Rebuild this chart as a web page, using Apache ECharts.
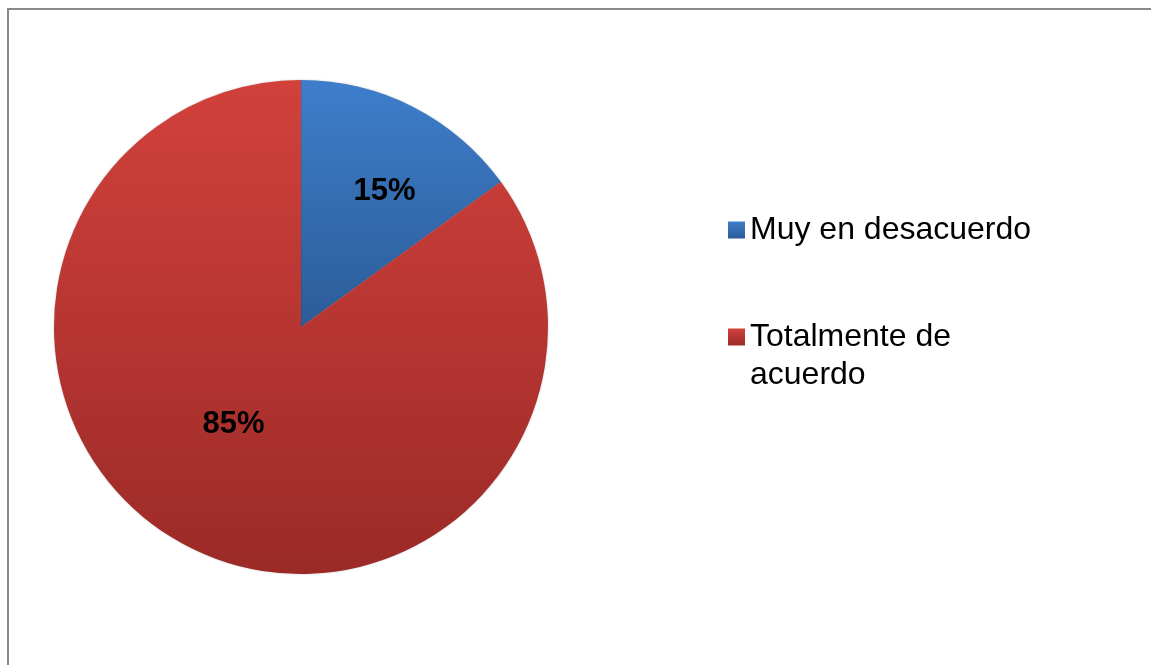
<!DOCTYPE html>
<html>
<head>
<meta charset="utf-8">
<script src="https://cdn.jsdelivr.net/npm/echarts@6/dist/echarts.min.js"></script>
<style>
html,body{margin:0;padding:0;background:#fff;}
#chart{width:1151px;height:665px;}
</style>
</head>
<body>
<div id="chart"></div>
<script>
var categories = ['Muy en desacuerdo', 'Totalmente de acuerdo'];
var legendLabels = ['Muy en desacuerdo', '\nTotalmente de\nacuerdo'];
var values = [15, 85];
var gradients = [
  ['#3e7ecb', '#2c5c98'],
  ['#d2413c', '#9b2a27']
];
var labelOffsets = [[26, -23], [-10, -15]];

var chart = echarts.init(document.getElementById('chart'));
var data = categories.map(function (c, i) {
  return {
    name: c,
    value: values[i],
    itemStyle: {
      color: {
        type: 'linear', x: 0, y: 0, x2: 0, y2: 1,
        colorStops: [{ offset: 0, color: gradients[i][0] }, { offset: 1, color: gradients[i][1] }]
      }
    },
    label: { offset: labelOffsets[i] }
  };
});

chart.setOption({
  animation: false,
  backgroundColor: '#ffffff',
  graphic: [{
    type: 'rect',
    shape: { x: 8, y: 9, width: 1160, height: 680 },
    style: { fill: 'none', stroke: '#898989', lineWidth: 2 },
    silent: true
  }],
  legend: {
    orient: 'vertical',
    left: 723,
    top: 206,
    itemWidth: 17,
    itemHeight: 17,
    itemGap: 31,
    icon: 'rect',
    padding: 5,
    formatter: function (name) {
      return legendLabels[categories.indexOf(name)];
    },
    textStyle: {
      fontFamily: 'Liberation Sans, Arial, sans-serif',
      fontSize: 32,
      lineHeight: 38,
      color: '#000'
    },
    data: categories
  },
  series: [{
    type: 'pie',
    center: [301, 327],
    radius: 247,
    startAngle: 90,
    clockwise: true,
    itemStyle: { shadowBlur: 2, shadowColor: 'rgba(0,0,0,0.25)' },
    label: {
      show: true,
      position: 'inside',
      formatter: '{c}%',
      fontFamily: 'Liberation Sans, Arial, sans-serif',
      fontWeight: 'bold',
      fontSize: 31,
      color: '#000'
    },
    labelLine: { show: false },
    emphasis: { disabled: true },
    data: data
  }]
});
</script>
</body>
</html>
